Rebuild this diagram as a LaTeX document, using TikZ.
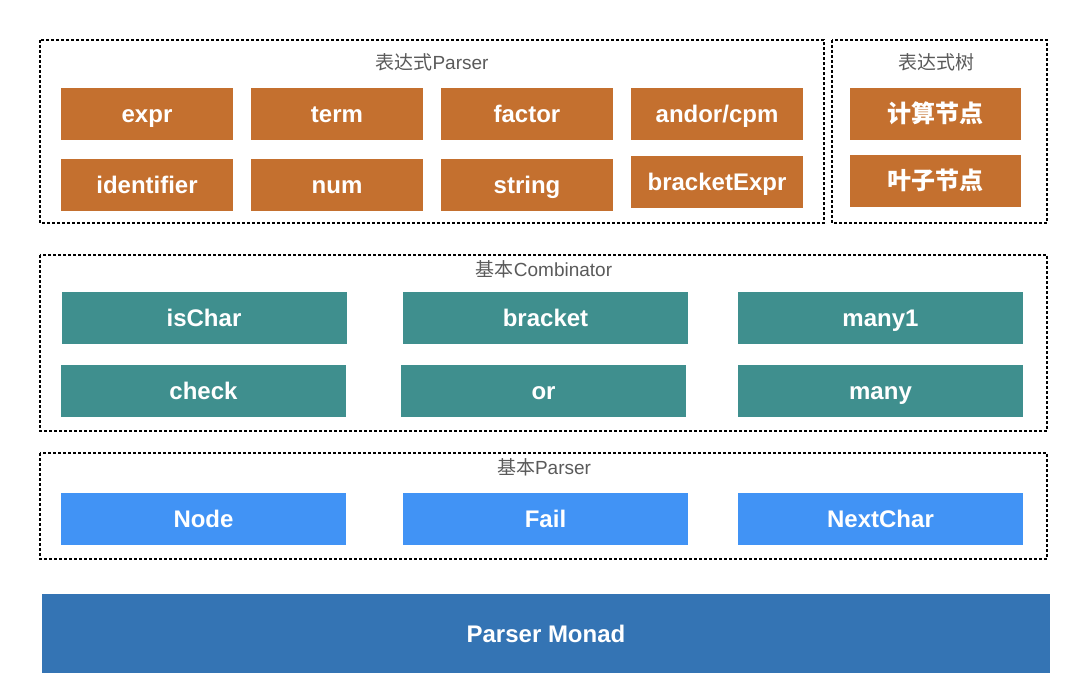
\documentclass[tikz,border=0pt]{standalone}
\usepackage{fontspec}
\setmainfont{Liberation Sans}
\newfontfamily\cjk{Noto Sans CJK SC}
\definecolor{orangebox}{HTML}{C4702F}
\definecolor{tealbox}{HTML}{3F8F8E}
\definecolor{bluebox}{HTML}{4193F5}
\definecolor{monadbox}{HTML}{3474B4}
\definecolor{titlegray}{HTML}{5A5A5A}
\tikzset{
  block/.style={draw=none, inner sep=0pt, text=white, font=\fontsize{24}{26}\selectfont\bfseries, text height=17.3pt, text depth=0pt},
  obox/.style={block, fill=orangebox, minimum width=172pt, minimum height=52pt},
  tbox/.style={block, fill=tealbox, minimum width=285pt, minimum height=52pt},
  bbox/.style={block, fill=bluebox, minimum width=285pt, minimum height=52pt},
  group/.style={draw=black, line width=1.2pt, dash pattern=on 3pt off 2pt},
  grouptitle/.style={text=titlegray, font=\fontsize{19}{21}\selectfont, inner sep=0pt, text height=13.7pt, text depth=0pt}
}
\begin{document}
\begin{tikzpicture}[x=1pt,y=-1pt]
\useasboundingbox (0,0) rectangle (1080,693);
% groups
\draw[group] (40,40) rectangle (824,223);
\draw[group] (832,40) rectangle (1047,223);
\draw[group] (40,255) rectangle (1047,431);
\draw[group] (40,453) rectangle (1047,559);
\node[grouptitle] (t1) at (432,63) {{\cjk 表达式}Parser};
\node[grouptitle] (t2) at (936,63) {\cjk 表达式树};
\node[grouptitle] (t3) at (544,270) {{\cjk 基本}Combinator};
\node[grouptitle] (t4) at (544,468) {{\cjk 基本}Parser};
% expression parser
\node[obox] (expr) at (147,114) {expr};
\node[obox] (term) at (337,114) {term};
\node[obox] (factor) at (527,114) {factor};
\node[obox] (andor) at (717,114) {andor/cpm};
\node[obox] (ident) at (147,184.5) {identifier};
\node[obox] (num) at (337,184.5) {num};
\node[obox] (string) at (527,184.5) {string};
\node[obox] (brexpr) at (717,181.5) {bracketExpr};
% tree
\node[obox, minimum width=171pt, font=\fontsize{24}{26}\selectfont\cjk\bfseries] (calc) at (935.5,114) {计算节点};
\node[obox, minimum width=171pt, font=\fontsize{24}{26}\selectfont\cjk\bfseries] (leaf) at (935.5,181) {叶子节点};
% combinators
\node[tbox] (ischar) at (204,318) {isChar};
\node[tbox] (bracket) at (545.5,318) {bracket};
\node[tbox] (many1) at (880.5,318) {many1};
\node[tbox] (check) at (203.5,391) {check};
\node[tbox] (or) at (543.5,391) {or};
\node[tbox] (many) at (880.5,391) {many};
% basic parser
\node[bbox] (node) at (203.5,519) {Node};
\node[bbox] (fail) at (545.5,519) {Fail};
\node[bbox] (nextchar) at (880.5,519) {NextChar};
% monad
\node[block, fill=monadbox, minimum width=1008pt, minimum height=79pt] (monad) at (546,633.5) {Parser Monad};
\end{tikzpicture}
\end{document}
